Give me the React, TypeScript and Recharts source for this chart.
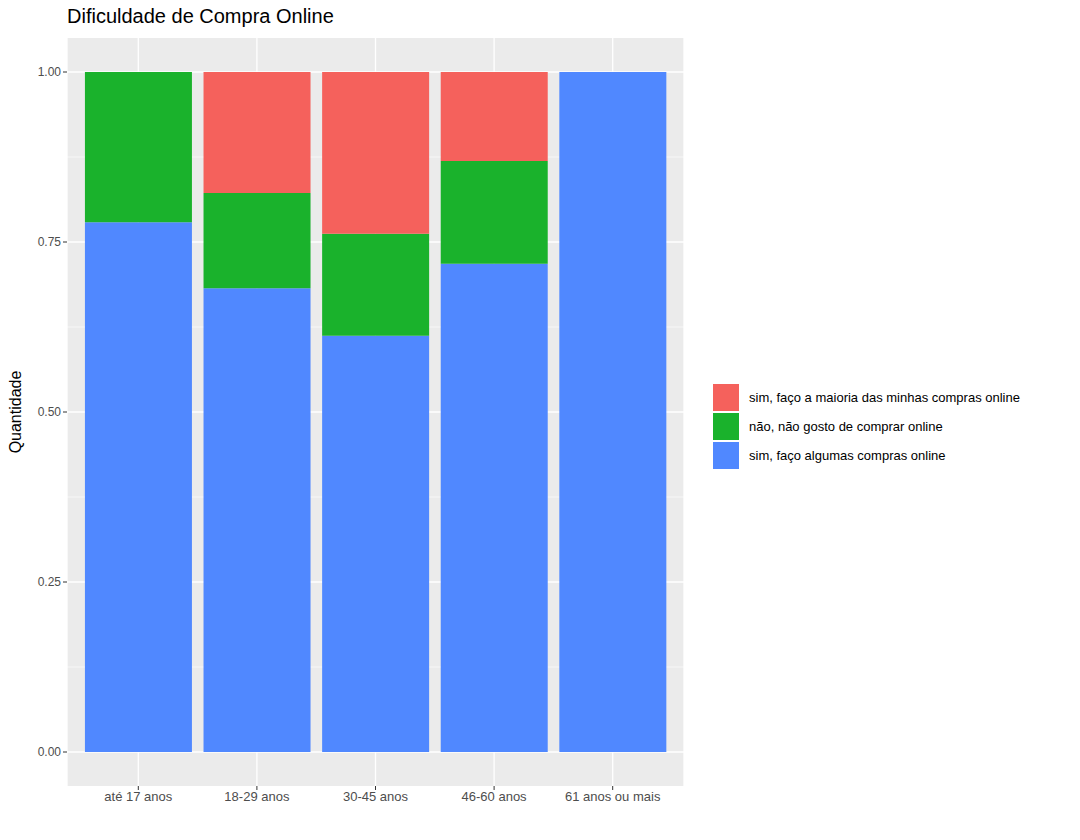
import { Bar, BarChart, CartesianGrid, XAxis, YAxis } from 'recharts';

const categories = ['até 17 anos', '18-29 anos', '30-45 anos', '46-60 anos', '61 anos ou mais'];
const algumas = [0.779, 0.682, 0.612, 0.718, 1.0];
const naoGosto = [0.221, 0.14, 0.15, 0.151, 0];
const maioria = [0, 0.178, 0.238, 0.131, 0];
const yTicks = [0, 0.25, 0.5, 0.75, 1];
const yMinor = [0.125, 0.375, 0.625, 0.875];

const series = [
  { key: 'maioria', label: 'sim, faço a maioria das minhas compras online', color: '#F5615C' },
  { key: 'nao', label: 'não, não gosto de comprar online', color: '#1AB22C' },
  { key: 'algumas', label: 'sim, faço algumas compras online', color: '#5088FF' },
];

const data = categories.map((c, i) => ({
  cat: c,
  algumas: algumas[i],
  nao: naoGosto[i],
  maioria: maioria[i],
}));

const font = 'Liberation Sans, Arial, sans-serif';

export default function App() {
  return (
    <div style={{ position: 'absolute', left: 0, top: 0, width: 1080, height: 840, background: '#fff', fontFamily: font }}>
      <div style={{ position: 'absolute', left: 67, top: 5, fontSize: 20, color: '#000' }}>Dificuldade de Compra Online</div>
      <div
        style={{
          position: 'absolute', left: 16, top: 412, fontSize: 16, color: '#000',
          transform: 'translate(-50%, -50%) rotate(-90deg)', whiteSpace: 'nowrap',
        }}
      >
        Quantidade
      </div>
      <div style={{ position: 'absolute', left: 0, top: 0 }}>
        <BarChart width={690} height={840} data={data} margin={{ top: 38, right: 6, left: 17, bottom: 24 }} barCategoryGap="5%">
          <CartesianGrid fill="#EBEBEB" stroke="#fff" strokeWidth={0.6} vertical={false} horizontalValues={yMinor} />
          <CartesianGrid stroke="#fff" strokeWidth={1.3} horizontalValues={yTicks} />
          <XAxis
            dataKey="cat"
            padding={{ left: 12, right: 12 }}
            axisLine={false}
            tickSize={4}
            tickLine={{ stroke: '#333' }}
            tick={{ fill: '#4D4D4D', fontSize: 13, fontFamily: font }}
            interval={0}
          />
          <YAxis
            width={50}
            domain={[-0.05, 1.05]}
            ticks={yTicks}
            tickFormatter={(v: number) => v.toFixed(2)}
            axisLine={false}
            tickSize={4}
            tickLine={{ stroke: '#333' }}
            tick={{ fill: '#4D4D4D', fontSize: 12, fontFamily: font }}
            allowDataOverflow
          />
          {[...series].reverse().map((s) => (
            <Bar key={s.key} dataKey={s.key} stackId="a" fill={s.color} isAnimationActive={false} />
          ))}
        </BarChart>
      </div>
      <div style={{ position: 'absolute', left: 713, top: 383 }}>
        {series.map((s) => (
          <div key={s.key} style={{ display: 'flex', alignItems: 'center', height: 29 }}>
            <div style={{ width: 26, height: 27, background: s.color, marginRight: 10 }} />
            <span style={{ fontSize: 13, color: '#000' }}>{s.label}</span>
          </div>
        ))}
      </div>
    </div>
  );
}
